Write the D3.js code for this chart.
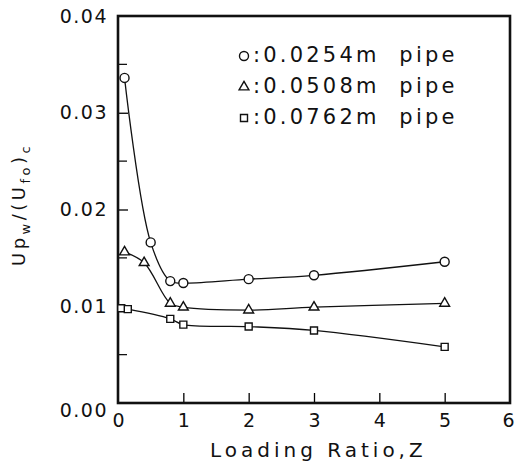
<!DOCTYPE html>
<html>
<head>
<meta charset="utf-8">
<script src="https://cdn.jsdelivr.net/npm/d3@7"></script>
<style>
  body { margin: 0; background: #fff; }
  text { font-family: "DejaVu Sans", sans-serif; fill: #111; }
</style>
</head>
<body>
<div id="chart"></div>
<script>
// Data
const loadSmall = [0.1, 0.5, 0.8, 1, 2, 3, 5];
const upSmall = [0.0336, 0.0166, 0.0126, 0.0124, 0.0128, 0.0132, 0.0146];

const loadMid = [0.1, 0.4, 0.8, 1, 2, 3, 5];
const upMid = [0.0156, 0.0145, 0.0103, 0.0099, 0.0096, 0.0099, 0.0103];

const loadLarge = [0.05, 0.15, 0.8, 1, 2, 3, 5];
const upLarge = [0.0098, 0.0097, 0.0087, 0.0081, 0.0079, 0.0075, 0.0058];

const seriesNames = ["0.0254m  pipe", "0.0508m  pipe", "0.0762m  pipe"];
const xTicks = [0, 1, 2, 3, 4, 5, 6];
const yTicks = [0, 0.01, 0.02, 0.03, 0.04];
const yMinorTicks = [0.005, 0.015, 0.025, 0.035];

const width = 515, height = 469;
const margin = { top: 16, right: 5, bottom: 66, left: 118 };

const svg = d3.select("#chart")
    .append("svg")
    .attr("width", width)
    .attr("height", height);

const x = d3.scaleLinear().domain([0, 6]).range([margin.left, width - margin.right]);
const y = d3.scaleLinear().domain([0, 0.04]).range([height - margin.bottom, margin.top]);

// Axes with inward ticks
svg.append("g")
    .attr("transform", `translate(0,${height - margin.bottom})`)
    .call(d3.axisBottom(x).tickValues(xTicks).tickSizeInner(-10).tickSizeOuter(0).tickPadding(11).tickFormat(d3.format("d")))
    .call(g => g.select(".domain").remove())
    .call(g => g.selectAll(".tick line").attr("stroke-width", 1.3).filter(d => d === 0 || d === 6).remove())
    .call(g => g.selectAll("text").style("font-size", "19px").style("font-family", "DejaVu Sans"))
    // keep the last label inside the window
    .call(g => g.selectAll(".tick").filter(d => d === 6).select("text").attr("dx", -2));

svg.append("g")
    .attr("transform", `translate(${margin.left},0)`)
    .call(d3.axisLeft(y).tickValues(yTicks).tickSizeInner(-10).tickSizeOuter(0).tickPadding(10).tickFormat(d3.format(".2f")))
    .call(g => g.select(".domain").remove())
    .call(g => g.selectAll(".tick line").attr("stroke-width", 1.3).filter(d => d === 0 || d === 0.04).remove())
    .call(g => g.selectAll("text").style("font-size", "19px").style("letter-spacing", "1.5px").style("font-family", "DejaVu Sans"))
    .call(g => g.selectAll(".tick").filter(d => d === 0).select("text").attr("dy", "0.7em"));

svg.append("g")
    .selectAll("line")
    .data(yMinorTicks)
    .join("line")
    .attr("x1", margin.left)
    .attr("x2", margin.left + 9)
    .attr("y1", d => y(d))
    .attr("y2", d => y(d))
    .attr("stroke", "#111")
    .attr("stroke-width", 1.3);

// Frame
svg.append("rect")
    .attr("x", margin.left)
    .attr("y", margin.top)
    .attr("width", width - margin.right - margin.left)
    .attr("height", height - margin.bottom - margin.top)
    .attr("fill", "none")
    .attr("stroke", "#111")
    .attr("stroke-width", 2.6);

// Curves and markers
const series = [
    { xs: loadSmall, ys: upSmall, shape: d3.symbolCircle, size: 64 },
    { xs: loadMid, ys: upMid, shape: d3.symbolTriangle, size: 42 },
    { xs: loadLarge, ys: upLarge, shape: d3.symbolSquare, size: 49 }
];

const line = d3.line()
    .x(d => x(d[0]))
    .y(d => y(d[1]))
    .curve(d3.curveCatmullRom.alpha(0.5));

series.forEach(s => {
    const pts = s.xs.map((v, i) => [v, s.ys[i]]);
    svg.append("path")
        .datum(pts)
        .attr("d", line)
        .attr("fill", "none")
        .attr("stroke", "#111")
        .attr("stroke-width", 1.3);

    svg.append("g")
        .selectAll("path")
        .data(pts)
        .join("path")
        .attr("transform", d => `translate(${x(d[0])},${y(d[1])})`)
        .attr("d", d3.symbol().type(s.shape).size(s.size))
        .attr("fill", "#fff")
        .attr("stroke", "#111")
        .attr("stroke-width", 1.4);
});

// Legend
const legend = svg.append("g").attr("transform", "translate(244,0)");
seriesNames.forEach((name, i) => {
    const ly = 62 + i * 31;
    legend.append("path")
        .attr("transform", `translate(0,${ly - 6})`)
        .attr("d", d3.symbol().type(series[i].shape).size(series[i].size))
        .attr("fill", "#fff")
        .attr("stroke", "#111")
        .attr("stroke-width", 1.4);
    legend.append("text")
        .attr("x", 9)
        .attr("y", ly)
        .style("font-size", "21px")
        .style("letter-spacing", "3.2px")
        .attr("xml:space", "preserve")
        .text(":" + name);
});

// Axis labels
svg.append("text")
    .attr("x", 210)
    .attr("y", 457)
    .style("font-size", "20px")
    .style("letter-spacing", "4px")
    .text("Loading Ratio,Z");

const yLabel = svg.append("text")
    .attr("transform", "translate(25,266) rotate(-90)")
    .style("font-size", "18px")
    .style("letter-spacing", "3.5px");
yLabel.append("tspan").text("Up");
yLabel.append("tspan").attr("dy", 5).style("font-size", "13px").text("w");
yLabel.append("tspan").attr("dy", -5).text("/(U");
yLabel.append("tspan").attr("dy", 5).style("font-size", "13px").text("fo");
yLabel.append("tspan").attr("dy", -5).text(")");
yLabel.append("tspan").attr("dy", 5).style("font-size", "13px").text("c");
</script>
</body>
</html>
